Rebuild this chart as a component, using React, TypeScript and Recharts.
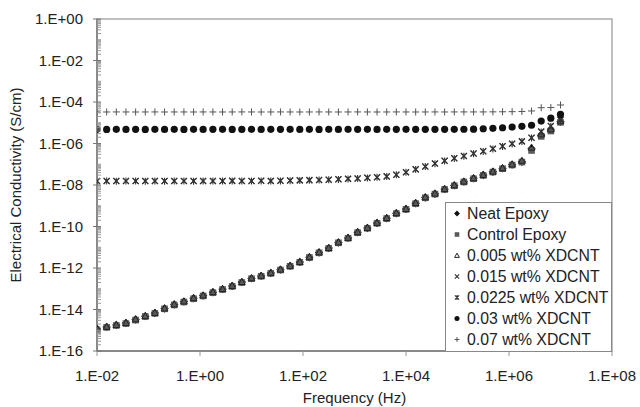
import React from "react";
import { ScatterChart, Scatter, XAxis, YAxis, ReferenceArea, Legend } from "recharts";

const FONT = '"Liberation Sans", Arial, sans-serif';

// frequency sweep (Hz)
const frequency = [
  0.01, 0.0154, 0.0237, 0.0365, 0.0562, 0.0866, 0.133, 0.205, 0.316, 0.487,
  0.75, 1.15, 1.78, 2.74, 4.22, 6.49, 10, 15.4, 23.7, 36.5,
  56.2, 86.6, 133, 205, 316, 487, 750, 1150, 1780, 2740,
  4220, 6490, 10000, 15400, 23700, 36500, 56200, 86600, 133000, 205000,
  316000, 487000, 750000, 1150000, 1780000, 2740000, 4220000, 6490000, 10000000,
];

// conductivity (S/cm)
const neatEpoxy = [
  1.15e-15, 1.45e-15, 1.78e-15, 2.24e-15, 3.31e-15, 4.79e-15, 6.76e-15, 1.12e-14, 1.74e-14, 2.4e-14,
  3.47e-14, 4.68e-14, 6.76e-14, 9.55e-14, 1.35e-13, 2.09e-13, 3.16e-13, 4.17e-13, 5.75e-13, 8.32e-13,
  1.26e-12, 1.95e-12, 3.31e-12, 5.62e-12, 9.12e-12, 1.7e-11, 2.82e-11, 5.25e-11, 8.51e-11, 1.48e-10,
  2.51e-10, 4.37e-10, 6.92e-10, 1.32e-9, 2.51e-9, 3.8e-9, 6.31e-9, 9.55e-9, 1.45e-8, 2.09e-8,
  3.02e-8, 4.37e-8, 6.31e-8, 9.55e-8, 1.32e-7, 5.62e-7, 2.51e-6, 4.47e-6, 1.12e-5,
];
const controlEpoxy = [
  1.05e-15, 1.38e-15, 1.7e-15, 2.1e-15, 3.1e-15, 4.6e-15, 6.5e-15, 1.08e-14, 1.66e-14, 2.3e-14,
  3.3e-14, 4.5e-14, 6.5e-14, 9.2e-14, 1.3e-13, 2.0e-13, 3.05e-13, 4.0e-13, 5.5e-13, 8.0e-13,
  1.21e-12, 1.88e-12, 3.2e-12, 5.4e-12, 8.8e-12, 1.64e-11, 2.72e-11, 5.05e-11, 8.2e-11, 1.43e-10,
  2.42e-10, 4.2e-10, 6.7e-10, 1.27e-9, 2.42e-9, 3.65e-9, 6.1e-9, 9.2e-9, 1.4e-8, 2.0e-8,
  2.9e-8, 4.2e-8, 6.1e-8, 9.2e-8, 1.27e-7, 4.6e-7, 2.2e-6, 4.0e-6, 1.05e-5,
];
const wt005 = [
  1.2e-15, 1.5e-15, 1.85e-15, 2.3e-15, 3.4e-15, 4.9e-15, 7.0e-15, 1.15e-14, 1.8e-14, 2.5e-14,
  3.6e-14, 4.85e-14, 7.0e-14, 9.9e-14, 1.4e-13, 2.15e-13, 3.25e-13, 4.3e-13, 5.95e-13, 8.6e-13,
  1.3e-12, 2.0e-12, 3.4e-12, 5.8e-12, 9.4e-12, 1.75e-11, 2.9e-11, 5.4e-11, 8.8e-11, 1.53e-10,
  2.6e-10, 4.5e-10, 7.15e-10, 1.37e-9, 2.6e-9, 3.95e-9, 6.5e-9, 9.9e-9, 1.5e-8, 2.17e-8,
  3.13e-8, 4.55e-8, 6.6e-8, 1.0e-7, 1.5e-7, 6.5e-7, 2.8e-6, 4.9e-6, 1.2e-5,
];
const wt015 = [
  1.58e-8, 1.6e-8, 1.57e-8, 1.59e-8, 1.58e-8, 1.6e-8, 1.58e-8, 1.57e-8, 1.59e-8, 1.6e-8,
  1.58e-8, 1.59e-8, 1.6e-8, 1.58e-8, 1.61e-8, 1.59e-8, 1.6e-8, 1.61e-8, 1.6e-8, 1.62e-8,
  1.66e-8, 1.7e-8, 1.74e-8, 1.78e-8, 1.82e-8, 1.91e-8, 2.0e-8, 2.09e-8, 2.24e-8, 2.4e-8,
  2.63e-8, 3.16e-8, 4.17e-8, 5.75e-8, 7.94e-8, 1.1e-7, 1.48e-7, 1.95e-7, 2.51e-7, 3.31e-7,
  4.27e-7, 5.62e-7, 7.41e-7, 9.77e-7, 1.29e-6, 1.91e-6, 3.8e-6, 7.08e-6, 1.41e-5,
];
const wt0225 = [
  1.52e-8, 1.55e-8, 1.53e-8, 1.54e-8, 1.55e-8, 1.53e-8, 1.54e-8, 1.52e-8, 1.55e-8, 1.54e-8,
  1.53e-8, 1.55e-8, 1.54e-8, 1.55e-8, 1.56e-8, 1.54e-8, 1.55e-8, 1.57e-8, 1.56e-8, 1.58e-8,
  1.61e-8, 1.65e-8, 1.69e-8, 1.73e-8, 1.78e-8, 1.86e-8, 1.95e-8, 2.04e-8, 2.18e-8, 2.34e-8,
  2.57e-8, 3.08e-8, 4.07e-8, 5.6e-8, 7.75e-8, 1.07e-7, 1.44e-7, 1.9e-7, 2.45e-7, 3.22e-7,
  4.15e-7, 5.48e-7, 7.2e-7, 9.5e-7, 1.25e-6, 1.85e-6, 3.6e-6, 6.8e-6, 1.35e-5,
];
const wt03 = [
  4.8e-6, 4.78e-6, 4.8e-6, 4.79e-6, 4.81e-6, 4.78e-6, 4.8e-6, 4.79e-6, 4.8e-6, 4.78e-6,
  4.8e-6, 4.79e-6, 4.81e-6, 4.8e-6, 4.78e-6, 4.79e-6, 4.8e-6, 4.79e-6, 4.8e-6, 4.81e-6,
  4.8e-6, 4.79e-6, 4.8e-6, 4.78e-6, 4.8e-6, 4.79e-6, 4.8e-6, 4.81e-6, 4.8e-6, 4.79e-6,
  4.8e-6, 4.81e-6, 4.8e-6, 4.82e-6, 4.81e-6, 4.82e-6, 4.83e-6, 4.84e-6, 4.86e-6, 4.9e-6,
  5.13e-6, 5.37e-6, 5.75e-6, 6.17e-6, 6.76e-6, 7.59e-6, 1.2e-5, 1.66e-5, 2.51e-5,
];
const wt07 = [
  3.31e-5, 3.3e-5, 3.32e-5, 3.31e-5, 3.3e-5, 3.31e-5, 3.32e-5, 3.3e-5, 3.31e-5, 3.31e-5,
  3.3e-5, 3.32e-5, 3.31e-5, 3.3e-5, 3.31e-5, 3.32e-5, 3.31e-5, 3.3e-5, 3.31e-5, 3.32e-5,
  3.31e-5, 3.3e-5, 3.31e-5, 3.32e-5, 3.31e-5, 3.3e-5, 3.31e-5, 3.32e-5, 3.31e-5, 3.3e-5,
  3.31e-5, 3.32e-5, 3.31e-5, 3.3e-5, 3.31e-5, 3.32e-5, 3.31e-5, 3.32e-5, 3.33e-5, 3.32e-5,
  3.33e-5, 3.35e-5, 3.38e-5, 3.42e-5, 3.5e-5, 3.7e-5, 5.3e-5, 5.4e-5, 7.2e-5,
];

const xTicks = [1e-2, 1, 1e2, 1e4, 1e6, 1e8];
const yTicks: number[] = [];
for (let e = -16; e < 0; e++) {
  for (let m = 1; m <= 9; m++) yTicks.push(m * Math.pow(10, e));
}
yTicks.push(1);

const series = [
  { name: "Neat Epoxy", values: neatEpoxy, kind: "diamond" },
  { name: "Control Epoxy", values: controlEpoxy, kind: "square" },
  { name: "0.005 wt% XDCNT", values: wt005, kind: "triangle" },
  { name: "0.015 wt% XDCNT", values: wt015, kind: "x" },
  { name: "0.0225 wt% XDCNT", values: wt0225, kind: "star" },
  { name: "0.03 wt% XDCNT", values: wt03, kind: "circle" },
  { name: "0.07 wt% XDCNT", values: wt07, kind: "plus" },
];

const fmtExp = (v: number) => {
  const e = Math.round(Math.log10(v));
  const sign = e < 0 ? "-" : "+";
  return `1.E${sign}${String(Math.abs(e)).padStart(2, "0")}`;
};

function Marker({ kind, cx, cy, s = 1 }: { kind: string; cx: number; cy: number; s?: number }) {
  if (cx == null || cy == null) return null;
  switch (kind) {
    case "diamond": {
      const d = 4.2 * s;
      return <path d={`M${cx},${cy - d}L${cx + d},${cy}L${cx},${cy + d}L${cx - d},${cy}Z`} fill="#111" />;
    }
    case "square": {
      const h = 3.3 * s;
      return <rect x={cx - h} y={cy - h} width={2 * h} height={2 * h} fill="#5a5a5a" />;
    }
    case "triangle": {
      const h = 3.4 * s;
      return (
        <path d={`M${cx},${cy - h}L${cx + h},${cy + h * 0.8}L${cx - h},${cy + h * 0.8}Z`} fill="none" stroke="#222" strokeWidth={1} />
      );
    }
    case "x": {
      const h = 3 * s;
      return (
        <path d={`M${cx - h},${cy - h}L${cx + h},${cy + h}M${cx - h},${cy + h}L${cx + h},${cy - h}`} stroke="#333" strokeWidth={1.1} />
      );
    }
    case "star": {
      const h = 3 * s;
      return (
        <path
          d={`M${cx - h},${cy - h}L${cx + h},${cy + h}M${cx - h},${cy + h}L${cx + h},${cy - h}M${cx},${cy - h - 0.5}L${cx},${cy + h + 0.5}`}
          stroke="#333"
          strokeWidth={1.1}
        />
      );
    }
    case "circle":
      return <circle cx={cx} cy={cy} r={3.6 * s} fill="#111" />;
    case "plus": {
      const h = 3.5 * s;
      return <path d={`M${cx - h},${cy}L${cx + h},${cy}M${cx},${cy - h}L${cx},${cy + h}`} stroke="#555" strokeWidth={1} />;
    }
  }
  return null;
}

function YTick({ x, y, payload }: any) {
  const v = payload.value;
  const e = Math.log10(v);
  const r = Math.round(e);
  const major = Math.abs(e - r) < 1e-6 && r % 2 === 0;
  if (major) {
    return (
      <g>
        <line x1={x - 4} x2={x + 4} y1={y} y2={y} stroke="#777" />
        <text x={x - 14} y={y} dy="0.355em" textAnchor="end" fontSize={15} fill="#222" fontFamily={FONT}>
          {fmtExp(v)}
        </text>
      </g>
    );
  }
  return <line x1={x} x2={x + 4} y1={y} y2={y} stroke="#999" />;
}

function LegendBox() {
  return (
    <div
      style={{
        border: "1px solid #888",
        background: "#fff",
        boxSizing: "border-box",
        width: 167,
        height: 150,
        fontFamily: FONT,
        fontSize: 15.8,
        color: "#222",
      }}
    >
      {series.map((s) => (
        <div key={s.name} style={{ height: 21, display: "flex", alignItems: "center", whiteSpace: "nowrap" }}>
          <svg width={21} height={21} style={{ flex: "none" }}>
            <Marker kind={s.kind} cx={11} cy={10.5} s={0.7} />
          </svg>
          <span>{s.name}</span>
        </div>
      ))}
    </div>
  );
}

export default function App() {
  return (
    <div style={{ position: "absolute", left: 0, top: 0 }}>
      <ScatterChart width={640} height={407} margin={{ top: 19, right: 28, bottom: 0, left: 0 }}>
        <ReferenceArea x1={1e-2} x2={1e8} y1={1e-16} y2={1} fill="none" stroke="#aaa" strokeWidth={1.5} />
        <XAxis
          type="number"
          dataKey="f"
          scale="log"
          domain={[1e-2, 1e8]}
          allowDataOverflow
          ticks={xTicks}
          interval={0}
          tickFormatter={fmtExp}
          tick={{ fontSize: 15, fill: "#222", fontFamily: FONT }}
          tickSize={5}
          tickMargin={14}
          tickLine={{ stroke: "#999" }}
          axisLine={{ stroke: "#777", strokeWidth: 1.5 }}
          height={56}
          label={{
            content: ({ viewBox }: any) => (
              <text x={viewBox.x + viewBox.width / 2} y={403} textAnchor="middle" fontSize={15} fill="#222" fontFamily={FONT}>
                Frequency (Hz)
              </text>
            ),
          }}
        />
        <YAxis
          type="number"
          dataKey="v"
          scale="log"
          domain={[1e-16, 1]}
          allowDataOverflow
          ticks={yTicks}
          interval={0}
          tick={(p: any) => <YTick {...p} />}
          tickSize={0}
          tickMargin={0}
          tickLine={false}
          axisLine={{ stroke: "#777", strokeWidth: 1.5 }}
          width={97}
          label={{
            content: ({ viewBox }: any) => {
              const cy = viewBox.y + viewBox.height / 2;
              return (
                <text x={21} y={cy} transform={`rotate(-90, 21, ${cy})`} textAnchor="middle" fontSize={15} fill="#222" fontFamily={FONT}>
                  Electrical Conductivity (S/cm)
                </text>
              );
            },
          }}
        />
        {series.map((s) => (
          <Scatter
            key={s.name}
            name={s.name}
            data={frequency.map((f, i) => ({ f, v: s.values[i] }))}
            isAnimationActive={false}
            shape={(p: any) => <Marker kind={s.kind} cx={p.cx} cy={p.cy} />}
          />
        ))}
        <Legend
          layout="vertical"
          align="center"
          verticalAlign="middle"
          content={() => <LegendBox />}
          wrapperStyle={{ left: 445, top: 202, width: 167, height: 150 }}
        />
      </ScatterChart>
    </div>
  );
}
